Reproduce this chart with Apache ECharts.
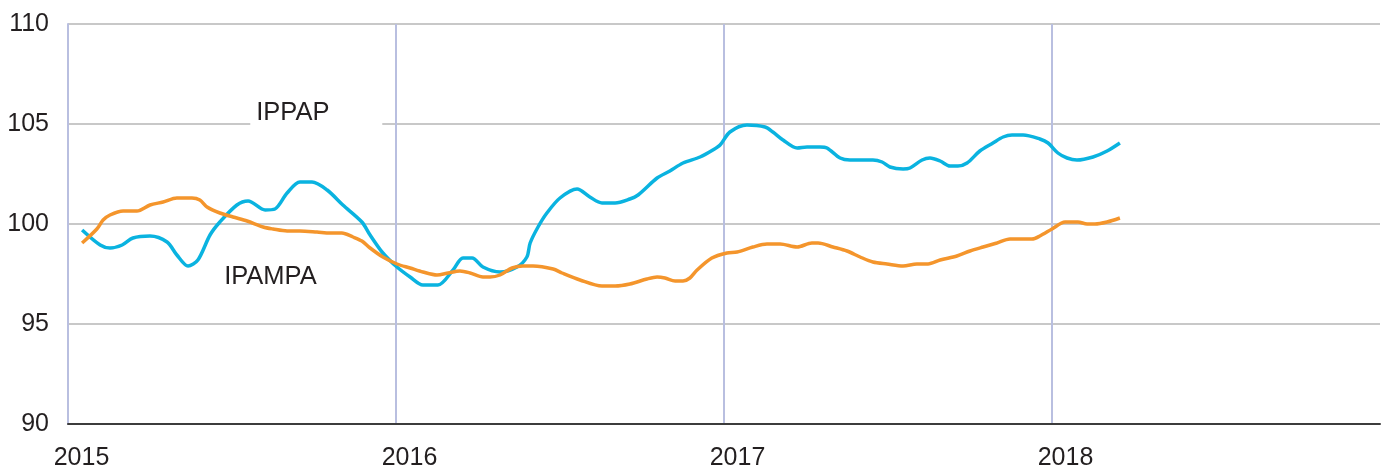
<!DOCTYPE html>
<html>
<head>
<meta charset="utf-8">
<script src="https://cdn.jsdelivr.net/npm/echarts@6/dist/echarts.min.js"></script>
<style>
  html, body { margin: 0; padding: 0; background: #fff; }
  #main { width: 1383px; height: 470px; }
</style>
</head>
<body>
<div id="main"></div>
<script>
// x values are decimal years
const ippapX = [2015.043, 2015.098, 2015.128, 2015.165, 2015.198, 2015.250, 2015.302, 2015.332, 2015.366, 2015.396,
  2015.433, 2015.463, 2015.515, 2015.549, 2015.601, 2015.631, 2015.668, 2015.707, 2015.744, 2015.790,
  2015.838, 2015.896, 2015.921, 2015.960, 2016.003, 2016.043, 2016.082, 2016.128, 2016.174, 2016.204,
  2016.232, 2016.265, 2016.317, 2016.369, 2016.399, 2016.409, 2016.433, 2016.460, 2016.500, 2016.552,
  2016.591, 2016.628, 2016.668, 2016.713, 2016.738, 2016.796, 2016.835, 2016.875, 2016.927, 2016.966,
  2016.988, 2017.018, 2017.070, 2017.125, 2017.149, 2017.180, 2017.223, 2017.253, 2017.293, 2017.314,
  2017.354, 2017.384, 2017.454, 2017.482, 2017.506, 2017.546, 2017.567, 2017.604, 2017.628, 2017.659,
  2017.689, 2017.713, 2017.741, 2017.780, 2017.820, 2017.851, 2017.878, 2017.912, 2017.963, 2017.988,
  2018.018, 2018.046, 2018.076, 2018.125, 2018.168, 2018.207];
const ippapY = [99.7, 98.95, 98.8, 98.95, 99.3, 99.4, 99.1, 98.45, 97.9, 98.2,
  99.45, 100.1, 100.95, 101.15, 100.7, 100.75, 101.55, 102.1, 102.1, 101.7,
  100.95, 100.1, 99.45, 98.55, 97.85, 97.35, 96.95, 96.95, 97.7, 98.3,
  98.3, 97.85, 97.6, 97.85, 98.35, 99.05, 99.85, 100.55, 101.3, 101.75,
  101.35, 101.05, 101.05, 101.25, 101.45, 102.3, 102.65, 103.05, 103.35, 103.7,
  103.95, 104.6, 104.95, 104.85, 104.6, 104.2, 103.8, 103.85, 103.85, 103.8,
  103.3, 103.2, 103.2, 103.1, 102.85, 102.75, 102.8, 103.2, 103.3, 103.15,
  102.9, 102.9, 103.05, 103.65, 104.05, 104.35, 104.45, 104.45, 104.25, 104.05,
  103.55, 103.3, 103.2, 103.35, 103.65, 104.05];

const ipampaX = [2015.043, 2015.088, 2015.107, 2015.128, 2015.168, 2015.210, 2015.250, 2015.290, 2015.332, 2015.378,
  2015.402, 2015.424, 2015.463, 2015.503, 2015.546, 2015.595, 2015.625, 2015.668, 2015.707, 2015.759,
  2015.799, 2015.835, 2015.869, 2015.896, 2015.921, 2015.960, 2016.003, 2016.043, 2016.082, 2016.125,
  2016.159, 2016.195, 2016.226, 2016.265, 2016.287, 2016.317, 2016.354, 2016.387, 2016.418, 2016.479,
  2016.506, 2016.561, 2016.628, 2016.668, 2016.713, 2016.765, 2016.796, 2016.820, 2016.851, 2016.875,
  2016.896, 2016.918, 2016.963, 2017.009, 2017.040, 2017.088, 2017.131, 2017.171, 2017.223, 2017.268,
  2017.287, 2017.332, 2017.375, 2017.415, 2017.454, 2017.497, 2017.546, 2017.588, 2017.622, 2017.659,
  2017.710, 2017.750, 2017.790, 2017.832, 2017.872, 2017.939, 2017.963, 2018.000, 2018.040, 2018.079,
  2018.107, 2018.131, 2018.168, 2018.207];
const ipampaY = [99.05, 99.75, 100.2, 100.45, 100.65, 100.65, 100.95, 101.1, 101.3, 101.3,
  101.2, 100.85, 100.55, 100.35, 100.15, 99.85, 99.75, 99.65, 99.65, 99.6,
  99.55, 99.55, 99.35, 99.15, 98.8, 98.35, 98.0, 97.8, 97.6, 97.45,
  97.55, 97.65, 97.55, 97.35, 97.35, 97.45, 97.8, 97.9, 97.9, 97.75,
  97.55, 97.2, 96.9, 96.9, 97.0, 97.25, 97.35, 97.3, 97.15, 97.15,
  97.3, 97.7, 98.3, 98.55, 98.6, 98.85, 99.0, 99.0, 98.85, 99.05,
  99.05, 98.85, 98.65, 98.35, 98.1, 98.0, 97.9, 98.0, 98.0, 98.2,
  98.4, 98.65, 98.85, 99.05, 99.25, 99.25, 99.4, 99.75, 100.1, 100.1,
  100.0, 100.0, 100.1, 100.3];

const yTicks = [90, 95, 100, 105, 110];
const years = [2015, 2016, 2017, 2018, 2019];

const font = "'Liberation Sans', Arial, sans-serif";
const textColor = '#231f20';

const pair = (xs, ys) => xs.map((x, i) => [x, ys[i]]);

const chart = echarts.init(document.getElementById('main'));
chart.setOption({
  animation: false,
  grid: { left: 68, right: 3, top: 24, bottom: 46, outerBoundsMode: 'none', containLabel: false },
  xAxis: {
    type: 'value',
    min: years[0],
    max: years[years.length - 1],
    interval: 1,
    axisLine: { show: true, lineStyle: { color: '#3c3c3c', width: 2 } },
    axisTick: { show: false },
    axisLabel: {
      fontFamily: font, fontSize: 25, color: textColor, margin: 22,
      padding: [0, 0, 0, 27],
      showMaxLabel: false,
      formatter: (v) => String(v)
    },
    splitLine: { show: true, showMaxLine: false, lineStyle: { color: '#b9bfe0', width: 2 } }
  },
  yAxis: {
    type: 'value',
    min: yTicks[0],
    max: yTicks[yTicks.length - 1],
    interval: 5,
    axisLine: { show: true, lineStyle: { color: '#b9bfe0', width: 2 } },
    axisTick: { show: false },
    axisLabel: { fontFamily: font, fontSize: 25, color: textColor, margin: 19 },
    splitLine: { show: true, lineStyle: { color: '#c8c8c8', width: 2 } }
  },
  series: [
    {
      name: 'IPPAP',
      type: 'line',
      data: pair(ippapX, ippapY),
      showSymbol: false,
      smooth: 0.3,
      lineStyle: { color: '#0ab3e0', width: 3.5 }
    },
    {
      name: 'IPAMPA',
      type: 'line',
      data: pair(ipampaX, ipampaY),
      showSymbol: false,
      smooth: 0.3,
      lineStyle: { color: '#f4952c', width: 3.5 }
    }
  ]
});

// series labels, placed in data coords
const p1 = chart.convertToPixel({ gridIndex: 0 }, [2015.574, 105.55]);
const p2 = chart.convertToPixel({ gridIndex: 0 }, [2015.476, 97.35]);
chart.setOption({
  graphic: [
    {
      type: 'rect',
      shape: { x: p1[0] - 6, y: p1[1] - 14, width: 132, height: 28 },
      style: { fill: '#fff' },
      z: 10
    },
    {
      type: 'text', x: p1[0], y: p1[1],
      style: { text: 'IPPAP', font: '25.5px ' + font, fill: textColor, verticalAlign: 'middle' },
      z: 11
    },
    {
      type: 'text', x: p2[0], y: p2[1],
      style: { text: 'IPAMPA', font: '25.5px ' + font, fill: textColor, verticalAlign: 'middle' },
      z: 11
    }
  ]
});
</script>
</body>
</html>
